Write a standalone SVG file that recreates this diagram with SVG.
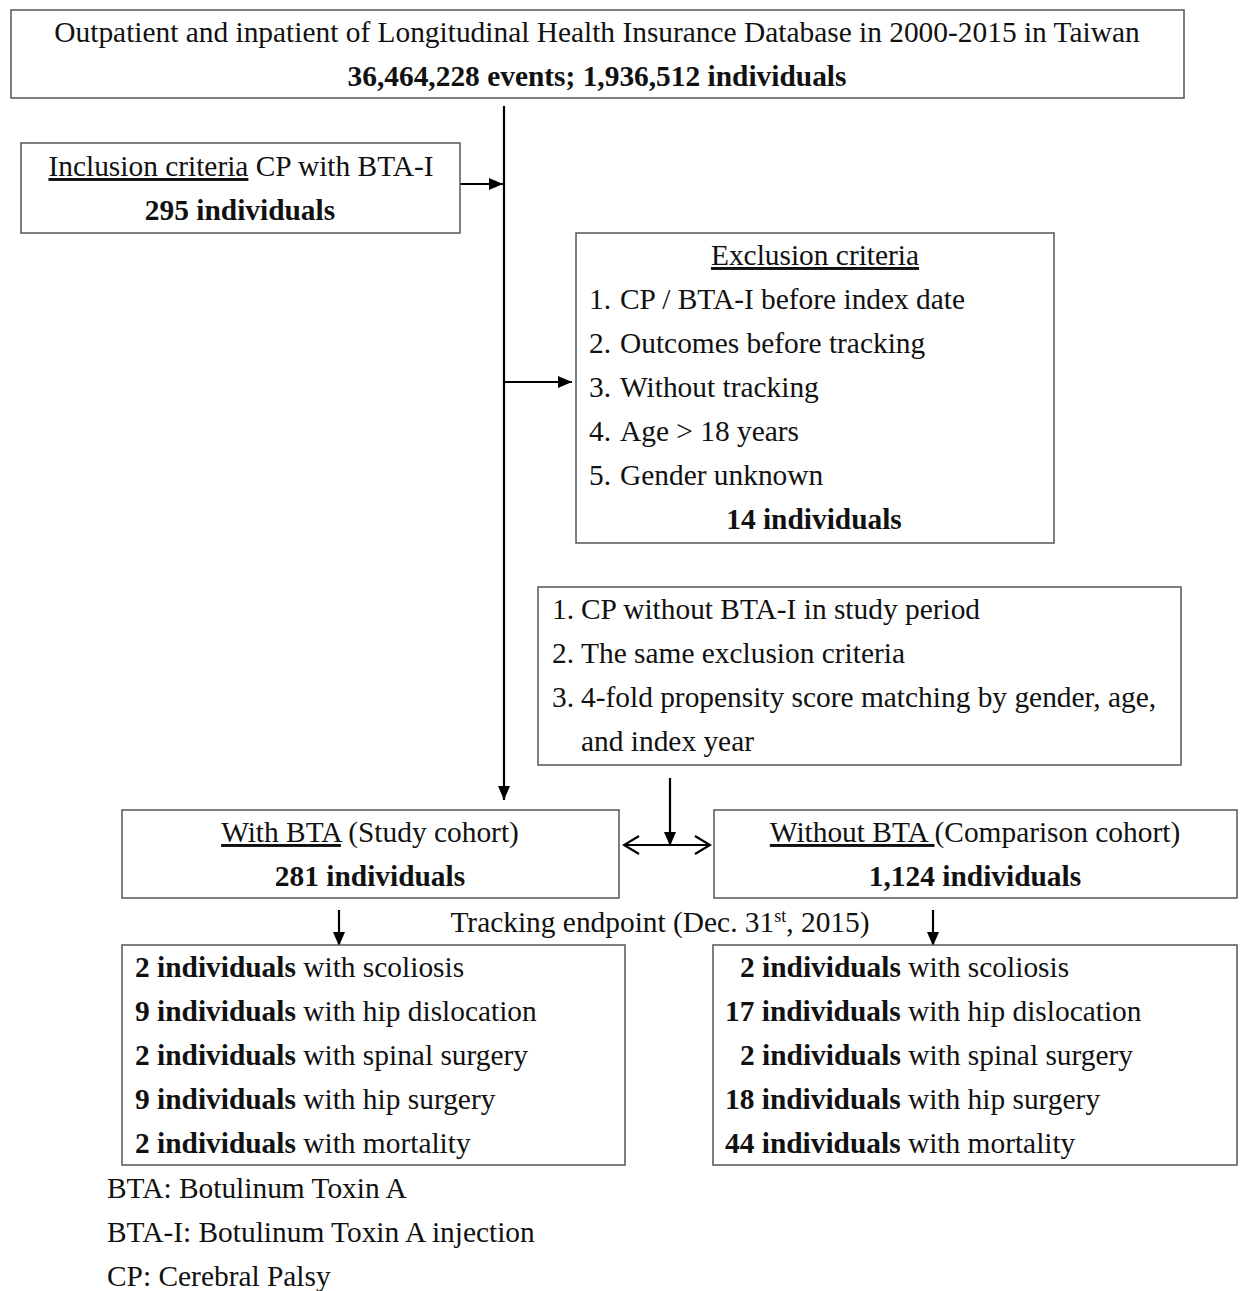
<svg xmlns="http://www.w3.org/2000/svg" width="1241" height="1291" viewBox="0 0 1241 1291">
<style>
text{font-family:"Liberation Serif","Times New Roman",serif;font-size:29.4px;fill:#111}
.b{font-weight:bold}
.c{text-anchor:middle}
.u{text-decoration:underline}
.box{fill:#fff;stroke:#555;stroke-width:1.5}
.ln{stroke:#000;stroke-width:2.2;fill:none}
</style>
<defs>
<marker id="ah" markerUnits="userSpaceOnUse" markerWidth="16" markerHeight="14" refX="14" refY="7" orient="auto">
<path d="M0,1 L14,7 L0,13 Z" fill="#000"/>
</marker>
<marker id="oh" markerUnits="userSpaceOnUse" markerWidth="18" markerHeight="22" refX="16" refY="11" orient="auto-start-reverse">
<path d="M1,2 L16,11 L1,20" fill="none" stroke="#000" stroke-width="2.2"/>
</marker>
</defs>
<rect width="1241" height="1291" fill="#fff"/>
<g id="connectors">
<line class="ln" x1="504" y1="106" x2="504" y2="800" marker-end="url(#ah)"/>
<line class="ln" x1="460" y1="184" x2="503" y2="184" marker-end="url(#ah)"/>
<line class="ln" x1="504" y1="382" x2="572" y2="382" marker-end="url(#ah)"/>
<line class="ln" x1="670" y1="778" x2="670" y2="846" marker-end="url(#ah)"/>
<line class="ln" x1="624" y1="845" x2="710" y2="845" marker-start="url(#oh)" marker-end="url(#oh)"/>
<line class="ln" x1="339" y1="910" x2="339" y2="946" marker-end="url(#ah)"/>
<line class="ln" x1="933" y1="910" x2="933" y2="946" marker-end="url(#ah)"/>
</g>
<g id="source">
<rect class="box" x="11" y="10" width="1173" height="88"/>
<text class="c" x="597" y="42">Outpatient and inpatient of Longitudinal Health Insurance Database in 2000-2015 in Taiwan</text>
<text class="c b" x="597" y="86">36,464,228 events; 1,936,512 individuals</text>
</g>
<g id="inclusion">
<rect class="box" x="21" y="143" width="439" height="90"/>
<text class="c" x="241" y="176"><tspan class="u">Inclusion criteria</tspan> CP with BTA-I</text>
<text class="c b" x="240" y="220">295 individuals</text>
</g>
<g id="exclusion">
<rect class="box" x="576" y="233" width="478" height="310"/>
<text class="c u" x="815" y="265">Exclusion criteria</text>
<text x="589" y="309">1.</text><text x="620" y="309">CP / BTA-I before index date</text>
<text x="589" y="353">2.</text><text x="620" y="353">Outcomes before tracking</text>
<text x="589" y="397">3.</text><text x="620" y="397">Without tracking</text>
<text x="589" y="441">4.</text><text x="620" y="441">Age &gt; 18 years</text>
<text x="589" y="485">5.</text><text x="620" y="485">Gender unknown</text>
<text class="c b" x="814" y="529">14 individuals</text>
</g>
<g id="matching">
<rect class="box" x="538" y="587" width="643" height="178"/>
<text x="552" y="619">1.</text><text x="581" y="619">CP without BTA-I in study period</text>
<text x="552" y="663">2.</text><text x="581" y="663">The same exclusion criteria</text>
<text x="552" y="707">3.</text><text x="581" y="707">4-fold propensity score matching by gender, age,</text>
<text x="581" y="751">and index year</text>
</g>
<g id="study">
<rect class="box" x="122" y="810" width="497" height="88"/>
<text class="c" x="370" y="842"><tspan class="u">With BTA</tspan> (Study cohort)</text>
<text class="c b" x="370" y="886">281 individuals</text>
</g>
<g id="comparison">
<rect class="box" x="714" y="810" width="523" height="88"/>
<text class="c" x="975" y="842"><tspan class="u">Without BTA </tspan>(Comparison cohort)</text>
<text class="c b" x="975" y="886">1,124 individuals</text>
</g>
<g id="tracking">
<text class="c" x="660" y="932">Tracking endpoint (Dec. 31<tspan dy="-10" font-size="18">st</tspan><tspan dy="10">, 2015)</tspan></text>
</g>
<g id="study-outcomes">
<rect class="box" x="122" y="945" width="503" height="220"/>
<text x="135" y="977"><tspan class="b">2 individuals</tspan> with scoliosis</text>
<text x="135" y="1021"><tspan class="b">9 individuals</tspan> with hip dislocation</text>
<text x="135" y="1065"><tspan class="b">2 individuals</tspan> with spinal surgery</text>
<text x="135" y="1109"><tspan class="b">9 individuals</tspan> with hip surgery</text>
<text x="135" y="1153"><tspan class="b">2 individuals</tspan> with mortality</text>
</g>
<g id="comparison-outcomes">
<rect class="box" x="713" y="945" width="524" height="220"/>
<text x="740" y="977"><tspan class="b">2 individuals</tspan> with scoliosis</text>
<text x="725" y="1021"><tspan class="b">17 individuals</tspan> with hip dislocation</text>
<text x="740" y="1065"><tspan class="b">2 individuals</tspan> with spinal surgery</text>
<text x="725" y="1109"><tspan class="b">18 individuals</tspan> with hip surgery</text>
<text x="725" y="1153"><tspan class="b">44 individuals</tspan> with mortality</text>
</g>
<g id="legend">
<text x="107" y="1198">BTA: Botulinum Toxin A</text>
<text x="107" y="1242">BTA-I: Botulinum Toxin A injection</text>
<text x="107" y="1286">CP: Cerebral Palsy</text>
</g>
</svg>
